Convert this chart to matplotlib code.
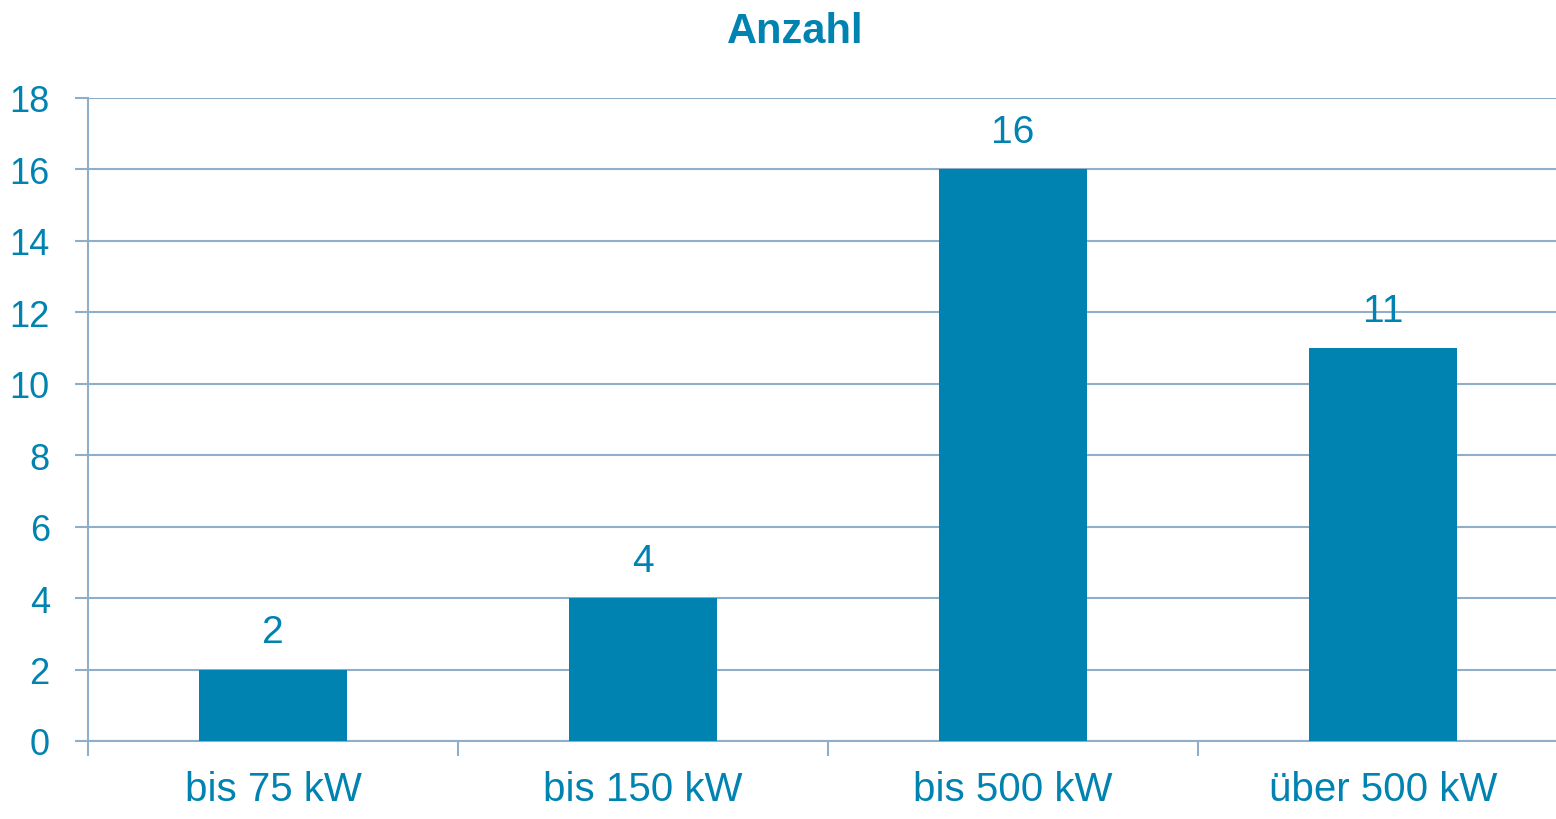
import matplotlib
matplotlib.use("Agg")
import matplotlib.pyplot as plt

categories = ["bis 75 kW", "bis 150 kW", "bis 500 kW", "über 500 kW"]
values = [2, 4, 16, 11]
yticks = [0, 2, 4, 6, 8, 10, 12, 14, 16, 18]
title = "Anzahl"

BLUE = "#0083b0"
GRID = "#8eaec9"

plt.rcParams["font.family"] = ["Liberation Sans", "DejaVu Sans"]

fig = plt.figure(figsize=(15.56, 8.2), dpi=100)
ax = fig.add_axes([88 / 1556, 78 / 820, 1 - 88 / 1556, (742 - 99) / 820])

x = list(range(len(categories)))
ax.bar(x, values, width=0.4, color=BLUE, zorder=3)
for xi, v in zip(x, values):
    ax.annotate(str(v), (xi, v), xytext=(0, 14), textcoords="offset points",
                ha="center", va="bottom", fontsize=28, color=BLUE)

ax.set_xlim(-0.5, 3.5 - 12 / 370)
ax.set_ylim(0, 18)
ax.set_yticks(yticks)
ax.set_yticklabels([str(t) for t in yticks], fontsize=26, color=BLUE)
ax.yaxis.grid(True, color=GRID, linewidth=1.5, zorder=0)

# boundaries as major ticks, labels on minor ticks at the centres
ax.set_xticks([-0.5, 0.5, 1.5, 2.5])
ax.set_xticklabels([])
ax.set_xticks(x, minor=True)
ax.set_xticklabels(categories, minor=True, fontsize=29, color=BLUE)
ax.tick_params(axis="x", which="major", length=11, width=1.5, color=GRID)
ax.tick_params(axis="x", which="minor", length=0, pad=21)
ax.tick_params(axis="y", length=9.5, width=1.5, color=GRID, pad=18)

for s in ["top", "right"]:
    ax.spines[s].set_visible(False)
for s in ["left", "bottom"]:
    ax.spines[s].set_color(GRID)
    ax.spines[s].set_linewidth(1.5)

fig.text(795 / 1556, 1 - 32 / 820, title, ha="center", va="center",
         fontsize=30, fontweight="bold", color=BLUE)

fig.savefig("out.png", dpi=100)
